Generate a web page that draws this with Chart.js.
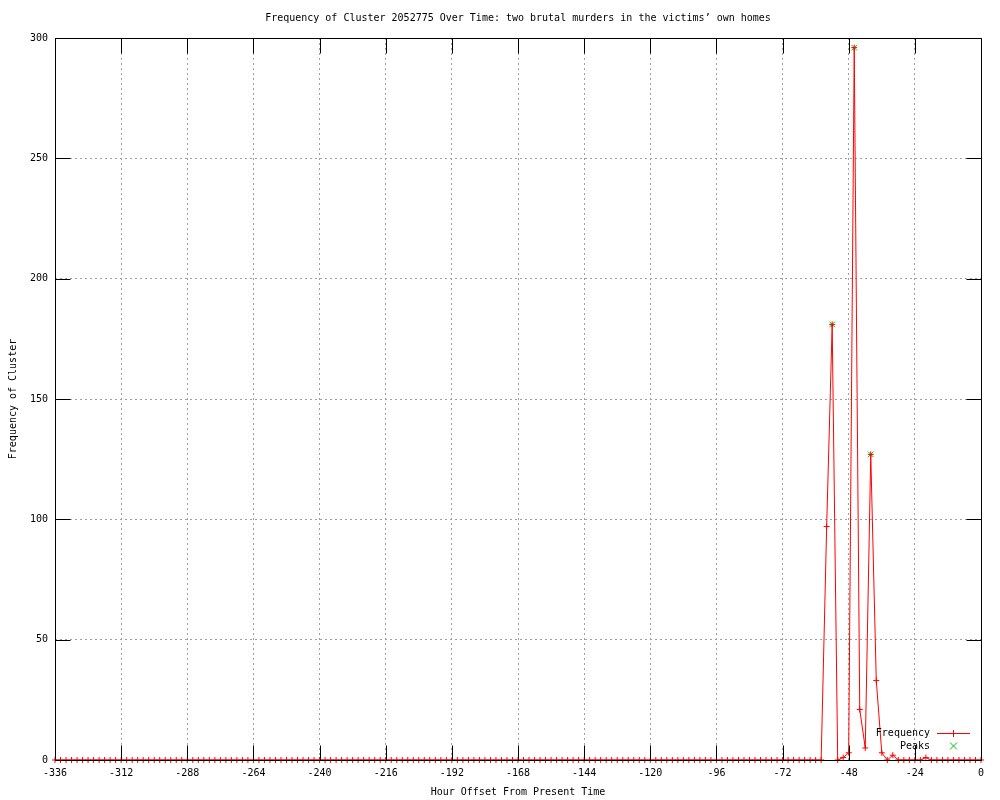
<!DOCTYPE html>
<html lang="en">
<head>
<meta charset="UTF-8">
<title>Frequency of Cluster 2052775 Over Time</title>
<script src="https://cdn.jsdelivr.net/npm/chart.js@4"></script>
<style>
  body { margin: 0; background: #fff; }
  #wrap { width: 1000px; height: 800px; position: relative; }
</style>
</head>
<body>
<div id="wrap"><canvas id="freqChart"></canvas></div>
<script>
// hour offsets, one sample every 2 hours
var hours = [
  -336, -334, -332, -330, -328, -326, -324, -322, -320, -318, -316, -314,
  -312, -310, -308, -306, -304, -302, -300, -298, -296, -294, -292, -290,
  -288, -286, -284, -282, -280, -278, -276, -274, -272, -270, -268, -266,
  -264, -262, -260, -258, -256, -254, -252, -250, -248, -246, -244, -242,
  -240, -238, -236, -234, -232, -230, -228, -226, -224, -222, -220, -218,
  -216, -214, -212, -210, -208, -206, -204, -202, -200, -198, -196, -194,
  -192, -190, -188, -186, -184, -182, -180, -178, -176, -174, -172, -170,
  -168, -166, -164, -162, -160, -158, -156, -154, -152, -150, -148, -146,
  -144, -142, -140, -138, -136, -134, -132, -130, -128, -126, -124, -122,
  -120, -118, -116, -114, -112, -110, -108, -106, -104, -102, -100, -98,
  -96, -94, -92, -90, -88, -86, -84, -82, -80, -78, -76, -74,
  -72, -70, -68, -66, -64, -62, -60, -58, -56, -54, -52, -50,
  -48, -46, -44, -42, -40, -38, -36, -34, -32, -30, -28, -26,
  -24, -22, -20, -18, -16, -14, -12, -10, -8, -6, -4, -2,
  0
];
var frequency = [
  0, 0, 0, 0, 0, 0, 0, 0, 0, 0, 0, 0,
  0, 0, 0, 0, 0, 0, 0, 0, 0, 0, 0, 0,
  0, 0, 0, 0, 0, 0, 0, 0, 0, 0, 0, 0,
  0, 0, 0, 0, 0, 0, 0, 0, 0, 0, 0, 0,
  0, 0, 0, 0, 0, 0, 0, 0, 0, 0, 0, 0,
  0, 0, 0, 0, 0, 0, 0, 0, 0, 0, 0, 0,
  0, 0, 0, 0, 0, 0, 0, 0, 0, 0, 0, 0,
  0, 0, 0, 0, 0, 0, 0, 0, 0, 0, 0, 0,
  0, 0, 0, 0, 0, 0, 0, 0, 0, 0, 0, 0,
  0, 0, 0, 0, 0, 0, 0, 0, 0, 0, 0, 0,
  0, 0, 0, 0, 0, 0, 0, 0, 0, 0, 0, 0,
  0, 0, 0, 0, 0, 0, 0, 0, 97, 181, 0, 1,
  3, 296, 21, 5, 127, 33, 3, 0, 2, 0, 0, 0,
  0, 0, 1, 0, 0, 0, 0, 0, 0, 0, 0, 0,
  0
];
var peakHours = [-54, -46, -40];
var peakValues = [181, 296, 127];

var xTickValues = [-336, -312, -288, -264, -240, -216, -192, -168, -144, -120, -96, -72, -48, -24, 0];
var yTickValues = [0, 50, 100, 150, 200, 250, 300];

var titleText = 'Frequency of Cluster 2052775 Over Time: two brutal murders in the victims\u2019 own homes';

Chart.defaults.font.family = "'DejaVu Sans Mono', 'Liberation Mono', monospace";
Chart.defaults.font.size = 10;
Chart.defaults.color = '#000';

// gnuplot-ish frame: title, solid border, inward tics and the key
var framePlugin = {
  id: 'frame',
  afterDatasetsDraw: function(chart) {
    var c = chart.ctx, a = chart.chartArea;
    var xs = chart.scales.x, ys = chart.scales.y;
    var L = a.left + 0.5, R = a.right + 0.5, T = a.top + 0.5, B = a.bottom + 0.5;
    c.save();
    c.strokeStyle = '#000';
    c.lineWidth = 1;
    c.setLineDash([]);
    c.beginPath();
    c.rect(L, T, R - L, B - T);
    xTickValues.forEach(function(v) {
      var px = Math.round(xs.getPixelForValue(v)) + 0.5;
      c.moveTo(px, B); c.lineTo(px, B - 15);
      c.moveTo(px, T); c.lineTo(px, T + 15);
    });
    yTickValues.forEach(function(v) {
      var py = Math.round(ys.getPixelForValue(v)) + 0.5;
      c.moveTo(L, py); c.lineTo(L + 15, py);
      c.moveTo(R, py); c.lineTo(R - 15, py);
    });
    c.stroke();

    // title
    c.fillStyle = '#000';
    c.font = "10px 'DejaVu Sans Mono', 'Liberation Mono', monospace";
    c.textAlign = 'center';
    c.textBaseline = 'middle';
    c.fillText(titleText, (a.left + a.right) / 2, 18);

    // key
    c.textAlign = 'right';
    c.fillText('Frequency', 930, 733);
    c.fillText('Peaks', 930, 746);
    c.strokeStyle = '#ff0000';
    c.beginPath();
    c.moveTo(937, 733.5); c.lineTo(970, 733.5);
    c.moveTo(953.5, 730); c.lineTo(953.5, 737);
    c.stroke();
    c.strokeStyle = '#00c000';
    c.beginPath();
    c.moveTo(950, 742.5); c.lineTo(957, 749.5);
    c.moveTo(957, 742.5); c.lineTo(950, 749.5);
    c.stroke();
    c.restore();
  }
};

var ctx = document.getElementById('freqChart').getContext('2d');
var chart = new Chart(ctx, {
  type: 'scatter',
  data: {
    datasets: [{
      label: 'Frequency',
      data: hours.map(function(h, i) { return {x: h, y: frequency[i]}; }),
      showLine: true,
      borderColor: '#ff0000',
      borderWidth: 1,
      tension: 0,
      pointStyle: 'cross',
      pointRadius: 3,
      pointBorderColor: '#ff0000',
      pointBorderWidth: 1,
      clip: false
    }, {
      label: 'Peaks',
      data: peakHours.map(function(h, i) { return {x: h, y: peakValues[i]}; }),
      showLine: false,
      pointStyle: 'crossRot',
      pointRadius: 4,
      pointBorderColor: '#00c000',
      pointBorderWidth: 1,
      clip: false
    }]
  },
  options: {
    responsive: true,
    maintainAspectRatio: false,
    animation: false,
    events: [],
    layout: { padding: { top: 38, right: 19, left: 0, bottom: 0 } },
    plugins: {
      legend: { display: false },
      tooltip: { enabled: false },
      title: { display: false }
    },
    scales: {
      x: {
        type: 'linear',
        min: -336,
        max: 0,
        afterBuildTicks: function(scale) {
          scale.ticks = xTickValues.map(function(v) { return {value: v}; });
        },
        afterFit: function(scale) { scale.height = 40; },
        grid: { color: '#a0a0a0', drawTicks: false },
        border: { display: false, dash: [2, 3] },
        ticks: { padding: 7, maxRotation: 0, autoSkip: false },
        title: {
          display: true,
          text: 'Hour Offset From Present Time',
          padding: { top: 0, bottom: 2 }
        }
      },
      y: {
        min: 0,
        max: 300,
        afterBuildTicks: function(scale) {
          scale.ticks = yTickValues.map(function(v) { return {value: v}; });
        },
        afterFit: function(scale) { scale.width = 55; },
        grid: { color: '#a0a0a0', drawTicks: false },
        border: { display: false, dash: [2, 3] },
        ticks: { padding: 7 },
        title: {
          display: true,
          text: 'Frequency of Cluster',
          padding: { top: 7, bottom: 0 }
        }
      }
    }
  },
  plugins: [framePlugin]
});
</script>
</body>
</html>
